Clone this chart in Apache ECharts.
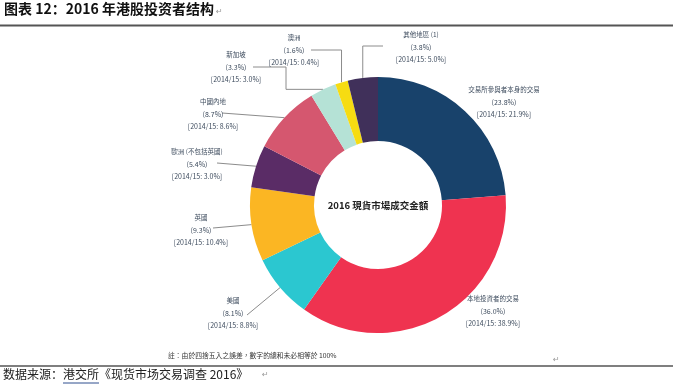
<!DOCTYPE html>
<html>
<head>
<meta charset="utf-8">
<script src="https://cdn.jsdelivr.net/npm/echarts@6/dist/echarts.min.js"></script>
<style>
html,body{margin:0;padding:0;background:#fff;}
#chart{width:673px;height:384px;}
</style>
</head>
<body>
<div id="chart"></div>
<script>
// ---- data ----
var categories = ['交易所參與者本身的交易', '本地投資者的交易', '美國', '英國', '歐洲 (不包括英國)', '中國內地', '新加坡', '澳洲', '其他地區 (1)'];
var share2016 = [23.8, 36.0, 8.1, 9.3, 5.4, 8.7, 3.3, 1.6, 3.8];
var share1415 = [21.9, 38.9, 8.8, 10.4, 3.0, 8.6, 3.0, 0.4, 5.0];
var sliceColors = ['#18426b', '#ef3350', '#2bc7d0', '#fbb623', '#5a2c66', '#d5576f', '#b5e2d6', '#f6dc12', '#40305a'];

// ---- label layout (annotation positions) ----
var labelPos = [
  {x: 504, y: 102, line: null},
  {x: 493, y: 311, line: null},
  {x: 233, y: 313, line: 'straight', end: [247, 315]},
  {x: 201, y: 230, line: 'straight', end: [213, 228]},
  {x: 197, y: 164, line: 'straight', end: [217, 163]},
  {x: 213, y: 114, line: 'straight', end: [222, 113]},
  {x: 236, y: 67, line: 'elbowH', elbowX: 286, lineY: 67, end: 253},
  {x: 294, y: 50, line: 'elbowV', lineY: 50, end: 311},
  {x: 421, y: 47, line: 'elbowV', lineY: 46, end: 383}
];

var CX = 378, CY = 205, R0 = 64, R1 = 128;

var chart = echarts.init(document.getElementById('chart'), null, {renderer: 'canvas'});

var data = categories.map(function (c, i) {
  return {
    name: c,
    value: share2016[i],
    itemStyle: {color: sliceColors[i]},
    labelLine: {show: labelPos[i].line !== null}
  };
});

function sliceStart(i) {
  var total = share2016.reduce(function (a, b) { return a + b; }, 0);
  var before = 0;
  for (var k = 0; k < i; k++) before += share2016[k];
  var mid = (before + share2016[i] / 2) / total * Math.PI * 2; // clockwise from top
  return [CX + R1 * Math.sin(mid), CY - R1 * Math.cos(mid)];
}

var labelFont = "'Noto Sans CJK TC', 'Noto Sans', sans-serif";

chart.setOption({
  backgroundColor: '#ffffff',
  animation: false,
  graphic: [
    {type: 'text', left: 4, top: 2, style: {text: '图表 12：2016 年港股投资者结构', font: "bold 14px 'Noto Sans CJK SC'", fill: '#111'}},
    {type: 'text', left: 216, top: 8, style: {text: '↵', font: "8px 'DejaVu Sans'", fill: '#999'}},
    {type: 'line', shape: {x1: 0, y1: 25.5, x2: 673, y2: 25.5}, style: {stroke: '#555', lineWidth: 2}},
    {type: 'text', left: 168, top: 352, style: {text: '註：由於四捨五入之誤差，數字的總和未必相等於 100%', font: "6.8px 'Noto Sans CJK TC'", fill: '#333'}},
    {type: 'text', left: 553, top: 356, style: {text: '↵', font: "8px 'DejaVu Sans'", fill: '#999'}},
    {type: 'line', shape: {x1: 0, y1: 366, x2: 673, y2: 366}, style: {stroke: '#555', lineWidth: 1.5}},
    {type: 'text', left: 3, top: 368, style: {text: '数据来源：港交所《现货市场交易调查 2016》', font: "12px 'Noto Sans CJK SC'", fill: '#222'}},
    {type: 'line', shape: {x1: 63, y1: 383, x2: 99, y2: 383}, style: {stroke: '#2f4f8f', lineWidth: 1}},
    {type: 'text', left: 262, top: 371, style: {text: '↵', font: "8px 'DejaVu Sans'", fill: '#999'}},
    {type: 'text', x: CX, y: CY, z: 100, style: {text: '2016 現貨市場成交金額', font: "bold 9.5px 'Noto Sans CJK TC'", fill: '#222', align: 'center', verticalAlign: 'middle'}}
  ],
  series: [{
    type: 'pie',
    center: [CX, CY],
    radius: [R0, R1],
    startAngle: 90,
    clockwise: true,
    avoidLabelOverlap: false,
    data: data,
    itemStyle: {borderWidth: 0},
    emphasis: {disabled: true},
    label: {
      show: true,
      position: 'outside',
      align: 'center',
      formatter: function (p) {
        var i = p.dataIndex;
        return '{n|' + categories[i] + '}\n{p|(' + share2016[i].toFixed(1) + '%)}\n{p|[2014/15: ' + share1415[i].toFixed(1) + '%]}';
      },
      rich: {
        n: {fontSize: 6.5, lineHeight: 12, color: '#3e4c5e', fontFamily: labelFont, align: 'center'},
        p: {fontSize: 7, lineHeight: 12, color: '#3e4c5e', fontFamily: labelFont, align: 'center'}
      }
    },
    labelLine: {show: true, lineStyle: {color: '#8c8c8c', width: 1}, smooth: false},
    labelLayout: function (params) {
      var i = params.dataIndex;
      var lp = labelPos[i];
      var out = {x: lp.x, y: lp.y, align: 'center', verticalAlign: 'middle'};
      if (lp.line) {
        var s = (params.labelLinePoints && params.labelLinePoints[0]) ? params.labelLinePoints[0] : sliceStart(i);
        var pts;
        if (lp.line === 'straight') {
          pts = [s, lp.end];
        } else if (lp.line === 'elbowH') {
          pts = [s, [lp.elbowX, s[1]], [lp.elbowX, lp.lineY], [lp.end, lp.lineY]];
        } else {
          pts = [s, [s[0], lp.lineY], [lp.end, lp.lineY]];
        }
        out.labelLinePoints = pts;
      }
      return out;
    }
  }]
});
</script>
</body>
</html>
